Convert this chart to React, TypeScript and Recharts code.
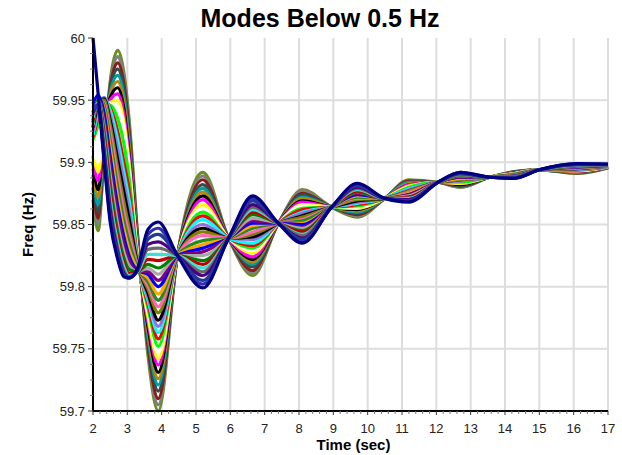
import { LineChart, Line, XAxis, YAxis, CartesianGrid } from 'recharts'

const FONT = '"Liberation Sans", Arial, sans-serif'

// time grid of the early transient (s), one row per trace
const TIME_EARLY = [2.0, 2.15, 2.32, 2.5, 2.72, 2.9, 3.05, 3.3, 3.6]
const EARLY_FREQ = [
  [59.870, 59.845, 59.905, 59.965, 59.990, 59.972, 59.935, 59.842, 59.745],
  [59.875, 59.850, 59.905, 59.962, 59.985, 59.968, 59.930, 59.840, 59.749],
  [59.880, 59.855, 59.908, 59.960, 59.980, 59.963, 59.926, 59.838, 59.752],
  [59.885, 59.860, 59.910, 59.958, 59.975, 59.958, 59.922, 59.836, 59.756],
  [59.890, 59.866, 59.913, 59.956, 59.970, 59.953, 59.917, 59.834, 59.760],
  [59.895, 59.872, 59.916, 59.954, 59.965, 59.948, 59.913, 59.832, 59.764],
  [59.900, 59.878, 59.920, 59.952, 59.960, 59.943, 59.908, 59.830, 59.768],
  [59.905, 59.885, 59.925, 59.950, 59.955, 59.938, 59.904, 59.828, 59.772],
  [59.910, 59.892, 59.930, 59.948, 59.950, 59.932, 59.899, 59.826, 59.776],
  [59.915, 59.900, 59.935, 59.947, 59.945, 59.927, 59.895, 59.824, 59.780],
  [59.918, 59.930, 59.945, 59.946, 59.935, 59.915, 59.888, 59.822, 59.783],
  [59.920, 59.936, 59.950, 59.944, 59.925, 59.900, 59.878, 59.821, 59.786],
  [59.922, 59.940, 59.952, 59.942, 59.918, 59.892, 59.870, 59.820, 59.789],
  [59.925, 59.943, 59.952, 59.938, 59.910, 59.884, 59.862, 59.819, 59.792],
  [59.928, 59.946, 59.951, 59.934, 59.902, 59.876, 59.855, 59.818, 59.795],
  [59.932, 59.948, 59.950, 59.930, 59.895, 59.868, 59.848, 59.817, 59.798],
  [59.936, 59.950, 59.948, 59.924, 59.888, 59.860, 59.842, 59.816, 59.801],
  [59.940, 59.952, 59.946, 59.918, 59.880, 59.853, 59.836, 59.815, 59.804],
  [59.944, 59.953, 59.943, 59.912, 59.872, 59.846, 59.830, 59.814, 59.807],
  [59.947, 59.954, 59.940, 59.905, 59.865, 59.840, 59.825, 59.813, 59.810],
  [59.928, 59.950, 59.935, 59.898, 59.858, 59.834, 59.821, 59.812, 59.812],
  [59.930, 59.950, 59.930, 59.890, 59.850, 59.828, 59.817, 59.812, 59.815],
  [59.932, 59.950, 59.926, 59.883, 59.844, 59.823, 59.814, 59.812, 59.818],
  [59.934, 59.949, 59.921, 59.877, 59.839, 59.819, 59.811, 59.812, 59.822],
  [59.936, 59.948, 59.917, 59.871, 59.835, 59.816, 59.809, 59.812, 59.826],
  [59.938, 59.947, 59.913, 59.866, 59.831, 59.813, 59.808, 59.813, 59.830],
  [59.940, 59.946, 59.910, 59.862, 59.828, 59.811, 59.807, 59.813, 59.834],
  [59.942, 59.945, 59.907, 59.858, 59.826, 59.810, 59.807, 59.814, 59.838],
  [59.946, 59.944, 59.904, 59.855, 59.824, 59.809, 59.807, 59.814, 59.842],
  [60.000, 59.955, 59.902, 59.852, 59.822, 59.808, 59.807, 59.815, 59.846],
]

// points where all traces cross
const NODE_TIMES = [4.46, 5.95, 7.4, 8.95, 10.5, 12.05, 13.55, 15.0]
const NODE_FREQ = [59.825, 59.839, 59.851, 59.864, 59.871, 59.884, 59.888, 59.894]

// swing of each trace between the crossings
const LOBE_TIMES = [3.9, 5.2, 6.65, 8.1, 9.7, 11.2, 12.7, 14.25, 16.1, 17.0]
const LOBE_3_9 = [59.700, 59.705, 59.710, 59.716, 59.721, 59.726, 59.731, 59.737, 59.742, 59.747, 59.752, 59.758, 59.763, 59.768, 59.773, 59.779, 59.784, 59.789, 59.794, 59.800, 59.805, 59.810, 59.815, 59.821, 59.826, 59.831, 59.836, 59.842, 59.847, 59.852]
const LOBE_5_2 = [59.892, 59.889, 59.886, 59.882, 59.879, 59.876, 59.873, 59.870, 59.866, 59.863, 59.860, 59.857, 59.854, 59.850, 59.847, 59.844, 59.841, 59.837, 59.834, 59.831, 59.828, 59.825, 59.821, 59.818, 59.815, 59.812, 59.809, 59.805, 59.802, 59.799]
const LOBE_6_65 = [59.809, 59.811, 59.813, 59.816, 59.818, 59.820, 59.822, 59.824, 59.827, 59.829, 59.831, 59.833, 59.835, 59.838, 59.840, 59.842, 59.844, 59.847, 59.849, 59.851, 59.853, 59.855, 59.858, 59.860, 59.862, 59.864, 59.866, 59.869, 59.871, 59.873]
const LOBE_8_1 = [59.878, 59.877, 59.875, 59.874, 59.872, 59.871, 59.869, 59.868, 59.866, 59.865, 59.863, 59.862, 59.860, 59.859, 59.857, 59.856, 59.854, 59.853, 59.851, 59.850, 59.848, 59.847, 59.845, 59.844, 59.842, 59.841, 59.839, 59.838, 59.836, 59.835]
const LOBE_9_7 = [59.856, 59.857, 59.858, 59.859, 59.860, 59.861, 59.862, 59.863, 59.863, 59.864, 59.865, 59.866, 59.867, 59.868, 59.869, 59.870, 59.871, 59.872, 59.873, 59.874, 59.875, 59.876, 59.876, 59.877, 59.878, 59.879, 59.880, 59.881, 59.882, 59.883]
const LOBE_11_2 = [59.886, 59.885, 59.885, 59.884, 59.884, 59.883, 59.882, 59.882, 59.881, 59.880, 59.880, 59.879, 59.879, 59.878, 59.877, 59.877, 59.876, 59.875, 59.875, 59.874, 59.874, 59.873, 59.872, 59.872, 59.871, 59.870, 59.870, 59.869, 59.869, 59.868]
const LOBE_12_7 = [59.880, 59.880, 59.881, 59.881, 59.882, 59.882, 59.882, 59.883, 59.883, 59.884, 59.884, 59.885, 59.885, 59.885, 59.886, 59.886, 59.887, 59.887, 59.887, 59.888, 59.888, 59.889, 59.889, 59.890, 59.890, 59.890, 59.891, 59.891, 59.892, 59.892]
const LOBE_14_25 = [59.8925, 59.8923, 59.8921, 59.8919, 59.8917, 59.8915, 59.8914, 59.8912, 59.8910, 59.8908, 59.8906, 59.8904, 59.8902, 59.8900, 59.8898, 59.8897, 59.8895, 59.8893, 59.8891, 59.8889, 59.8887, 59.8885, 59.8883, 59.8881, 59.8879, 59.8878, 59.8876, 59.8874, 59.8872, 59.8870]
const LOBE_16_1 = [59.8910, 59.8913, 59.8916, 59.8918, 59.8921, 59.8924, 59.8927, 59.8929, 59.8932, 59.8935, 59.8938, 59.8940, 59.8943, 59.8946, 59.8949, 59.8951, 59.8954, 59.8957, 59.8960, 59.8962, 59.8965, 59.8968, 59.8971, 59.8973, 59.8976, 59.8979, 59.8982, 59.8984, 59.8987, 59.8990]
const LOBE_17_0 = [59.8955, 59.8956, 59.8957, 59.8958, 59.8959, 59.8960, 59.8961, 59.8962, 59.8963, 59.8964, 59.8965, 59.8966, 59.8967, 59.8968, 59.8969, 59.8971, 59.8972, 59.8973, 59.8974, 59.8975, 59.8976, 59.8977, 59.8978, 59.8979, 59.8980, 59.8981, 59.8982, 59.8983, 59.8984, 59.8985]
const LOBE_FREQ = [LOBE_3_9, LOBE_5_2, LOBE_6_65, LOBE_8_1, LOBE_9_7, LOBE_11_2, LOBE_12_7, LOBE_14_25, LOBE_16_1, LOBE_17_0]

const LINE_COLORS = [
  '#6b8e23', '#7f7f7f', '#8b1a1a', '#2f4f4f', '#00a0a0', '#b8860b', '#000000', '#ff00ff', '#ffff00', '#ffffff',
  '#00ff00', '#ff0000', '#00ffff', '#9370db', '#000000', '#808000', '#ff69b4', '#228b22', '#ffa500', '#0000ff',
  '#800080', '#a9a9a9', '#008000', '#c00000', '#40e0d0', '#696969', '#4b0082', '#1e3c8c', '#3030b0', '#000080',
]

const X_TICKS = [2, 3, 4, 5, 6, 7, 8, 9, 10, 11, 12, 13, 14, 15, 16, 17]
const Y_TICKS = [59.7, 59.75, 59.8, 59.85, 59.9, 59.95, 60]

const X_MINOR = X_TICKS.slice(0, -1).flatMap(t => [0.2, 0.4, 0.6, 0.8].map(d => +(t + d).toFixed(1)))
const Y_MINOR = Y_TICKS.slice(0, -1).flatMap(v => [0.0125, 0.025, 0.0375].map(d => +(v + d).toFixed(4)))
const X_ALL = [...X_TICKS, ...X_MINOR].sort((a, b) => a - b)
const Y_ALL = [...Y_TICKS, ...Y_MINOR].sort((a, b) => a - b)

const TIMES = [...TIME_EARLY, ...NODE_TIMES, ...LOBE_TIMES].sort((a, b) => a - b)
const TABLE = TIMES.map(t => {
  const row: Record<string, number> = { t }
  const ei = TIME_EARLY.indexOf(t)
  const ni = NODE_TIMES.indexOf(t)
  const li = LOBE_TIMES.indexOf(t)
  EARLY_FREQ.forEach((early, k) => {
    row[`f${k}`] = ei >= 0 ? early[ei] : ni >= 0 ? NODE_FREQ[ni] : LOBE_FREQ[li][k]
  })
  return row
})

const isMajor = (v: number, list: number[]) => list.some(m => Math.abs(m - v) < 1e-6)

function XTick({ x, y, payload }: any) {
  const major = isMajor(payload.value, X_TICKS)
  return (
    <g>
      <line x1={x} x2={x} y1={y} y2={y + (major ? 4 : 3)} stroke={major ? '#333' : '#777'} strokeWidth={1} />
      {major && (
        <text x={x} y={y + 22} textAnchor="middle" fontSize={13} fill="#222" fontFamily={FONT}>
          {payload.value}
        </text>
      )}
    </g>
  )
}

function YTick({ x, y, payload }: any) {
  const major = isMajor(payload.value, Y_TICKS)
  return (
    <g>
      <line x1={x - (major ? 5 : 3)} x2={x} y1={y} y2={y} stroke={major ? '#333' : '#777'} strokeWidth={1} />
      {major && (
        <text x={x - 8} y={y + 4.6} textAnchor="end" fontSize={13} fill="#222" fontFamily={FONT}>
          {Number(payload.value.toFixed(2))}
        </text>
      )}
    </g>
  )
}

function XTitle({ viewBox }: any) {
  return (
    <text x={viewBox.x + viewBox.width / 2 + 3} y={viewBox.y + 39} textAnchor="middle" fontSize={15} fontWeight="bold" fill="#000" fontFamily={FONT}>
      Time (sec)
    </text>
  )
}

function YTitle({ viewBox }: any) {
  const cx = 33
  const cy = viewBox.y + viewBox.height / 2
  return (
    <text x={cx} y={cy} transform={`rotate(-90 ${cx} ${cy})`} textAnchor="middle" fontSize={15} fontWeight="bold" fill="#000" fontFamily={FONT}>
      Freq (Hz)
    </text>
  )
}

export default function App() {
  return (
    <div style={{ position: 'absolute', left: 0, top: 0, width: 622, height: 455, background: '#fff', fontFamily: FONT }}>
      <div style={{ position: 'absolute', left: 0, top: 6, width: 640, textAlign: 'center', fontSize: 25, lineHeight: '25px', fontWeight: 'bold', color: '#000' }}>
        Modes Below 0.5 Hz
      </div>
      <LineChart width={622} height={455} data={TABLE} margin={{ top: 38, right: 14, bottom: 20, left: 33 }}>
        <CartesianGrid
          stroke="#dddddd"
          strokeWidth={2}
          horizontalValues={[59.75, 59.8, 59.85, 59.9, 59.95]}
          verticalValues={X_TICKS.slice(1)}
        />
        <XAxis
          dataKey="t"
          type="number"
          domain={[2, 17]}
          ticks={X_ALL}
          interval={0}
          tickSize={0}
          tickMargin={0}
          tickLine={false}
          tick={<XTick />}
          axisLine={{ stroke: '#000', strokeWidth: 2 }}
          height={24}
          label={<XTitle />}
        />
        <YAxis
          type="number"
          domain={[59.7, 60]}
          ticks={Y_ALL}
          interval={0}
          width={60}
          tickSize={0}
          tickMargin={0}
          tickLine={false}
          tick={<YTick />}
          axisLine={{ stroke: '#000', strokeWidth: 2 }}
          label={<YTitle />}
        />
        {LINE_COLORS.map((color, k) => (
          <Line
            key={k}
            dataKey={`f${k}`}
            type="monotone"
            stroke={color}
            strokeWidth={3.2}
            dot={false}
            activeDot={false}
            isAnimationActive={false}
          />
        ))}
      </LineChart>
    </div>
  )
}
